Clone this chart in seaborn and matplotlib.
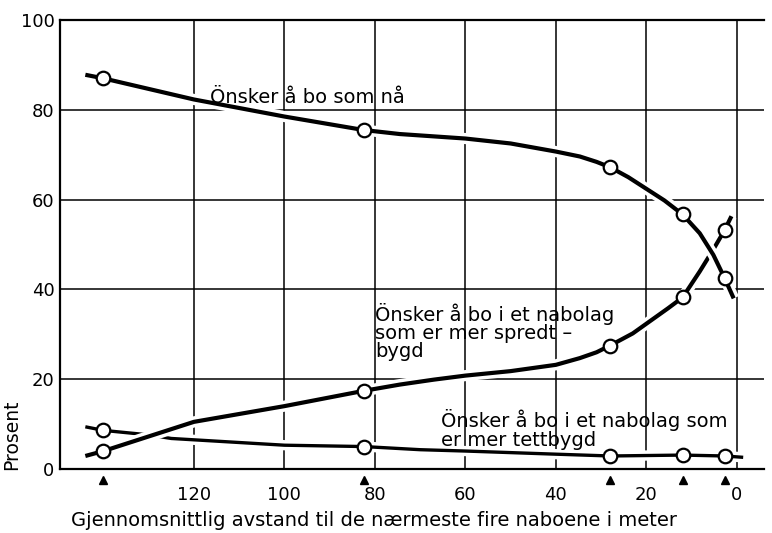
import numpy as np
import pandas as pd
import seaborn as sns
import matplotlib
matplotlib.use('Agg')
import matplotlib.pyplot as plt
import matplotlib.patheffects as pe
import matplotlib.transforms as mtransforms

sns.set_style('white')
plt.rcParams['font.family'] = ['DejaVu Sans']
plt.rcParams['text.color'] = 'black'
plt.rcParams['xtick.color'] = 'black'
plt.rcParams['ytick.color'] = 'black'

# survey points (distance to the four nearest neighbours, metres)
dist = [140, 82.5, 28, 12, 2.7]
na = [87, 75.5, 67.2, 56.7, 42.5]
spredt = [4.0, 17.4, 27.5, 38.2, 53.2]
tett = [8.6, 5.0, 2.9, 3.1, 2.9]

# hand drawn curves
na_curve_x = [144, 140, 120, 100, 82.5, 74.5, 60, 50, 40, 34.7, 31, 28, 24, 20, 16,
              12, 8.2, 5.2, 2.7, 0.7]
na_curve_y = [87.8, 87, 82.3, 78.5, 75.5, 74.6, 73.6, 72.5, 70.7, 69.6, 68.4, 67.2, 65.0,
              62.4, 59.8, 56.7, 52.5, 47.7, 42.5, 38.0]
spredt_curve_x = [144, 140, 120, 100, 82.5, 74.5, 67, 60, 50, 40, 34.7, 31, 28, 23, 15.2,
                  12, 8.2, 5.2, 2.7, 1.2]
spredt_curve_y = [2.9, 4.0, 10.5, 14.0, 17.4, 18.8, 19.9, 20.8, 21.8, 23.2, 24.7, 26.0, 27.5,
                  30.2, 35.8, 38.2, 44.0, 48.9, 53.2, 56.3]
tett_curve_x = [144, 140, 130, 125, 100, 82.5, 70, 60, 40, 28, 12, 2.7, -1.4]
tett_curve_y = [9.4, 8.6, 7.6, 6.8, 5.3, 5.0, 4.3, 4.0, 3.3, 2.9, 3.1, 2.9, 2.6]

xticks = [120, 100, 80, 60, 40, 20, 0]
yticks = [0, 20, 40, 60, 80, 100]

fig = plt.figure(figsize=(7.72, 5.33), dpi=100)
ax = fig.add_axes([60/772, 1 - 469/533, 704/772, 449/533])

ax.grid(True, color='black', lw=1.1)
ax.set_axisbelow(True)

curves = [(tett_curve_x, tett_curve_y, 2.4),
          (spredt_curve_x, spredt_curve_y, 3.0),
          (na_curve_x, na_curve_y, 3.0)]
for i, (cx, cy, lw) in enumerate(curves):
    sns.lineplot(x=cx, y=cy, sort=False, color='black', lw=lw, ax=ax, zorder=3 + i,
                 solid_joinstyle='round', solid_capstyle='butt',
                 path_effects=[pe.Stroke(linewidth=lw + 5, foreground='white'), pe.Normal()])

for vals in [tett, spredt, na]:
    sns.scatterplot(x=dist, y=vals, marker='o', s=95, color='white',
                    edgecolor='black', linewidth=1.6, ax=ax, zorder=10)

# little arrow heads under the axis at the survey points
trans = mtransforms.blended_transform_factory(ax.transData, ax.transAxes)
ax.plot(dist, [-0.024] * len(dist), ls='none', marker='^', ms=6, color='black',
        transform=trans, clip_on=False)

ax.set_xlim(149.6, -6)
ax.set_ylim(0, 100)
ax.set_xticks(xticks)
ax.set_yticks(yticks)
ax.tick_params(axis='x', length=7, width=1.1, color='black', pad=5, labelsize=13)
ax.tick_params(axis='y', length=0, pad=4, labelsize=13)

for side in ['left', 'top', 'bottom']:
    ax.spines[side].set_color('black')
    ax.spines[side].set_linewidth(1.6)
ax.spines['right'].set_visible(False)

ax.text(116.5, 82.8, 'Önsker å bo som nå', fontsize=14, ha='left', va='center', zorder=20)
ax.text(80, 37.0, 'Önsker å bo i et nabolag\nsom er mer spredt –\nbygd', fontsize=14,
        ha='left', va='top', linespacing=0.95, zorder=20)
ax.text(65.3, 13.3, 'Önsker å bo i et nabolag som\ner mer tettbygd', fontsize=14,
        ha='left', va='top', linespacing=0.95, zorder=20)

fig.text(374/772, 1 - 520/533, 'Gjennomsnittlig avstand til de nærmeste fire naboene i meter',
         fontsize=14, ha='center', va='center')
fig.text(12/772, 1 - 435/533, 'Prosent', fontsize=13.5, rotation=90, ha='center', va='center')

fig.savefig('out.png', dpi=100)
